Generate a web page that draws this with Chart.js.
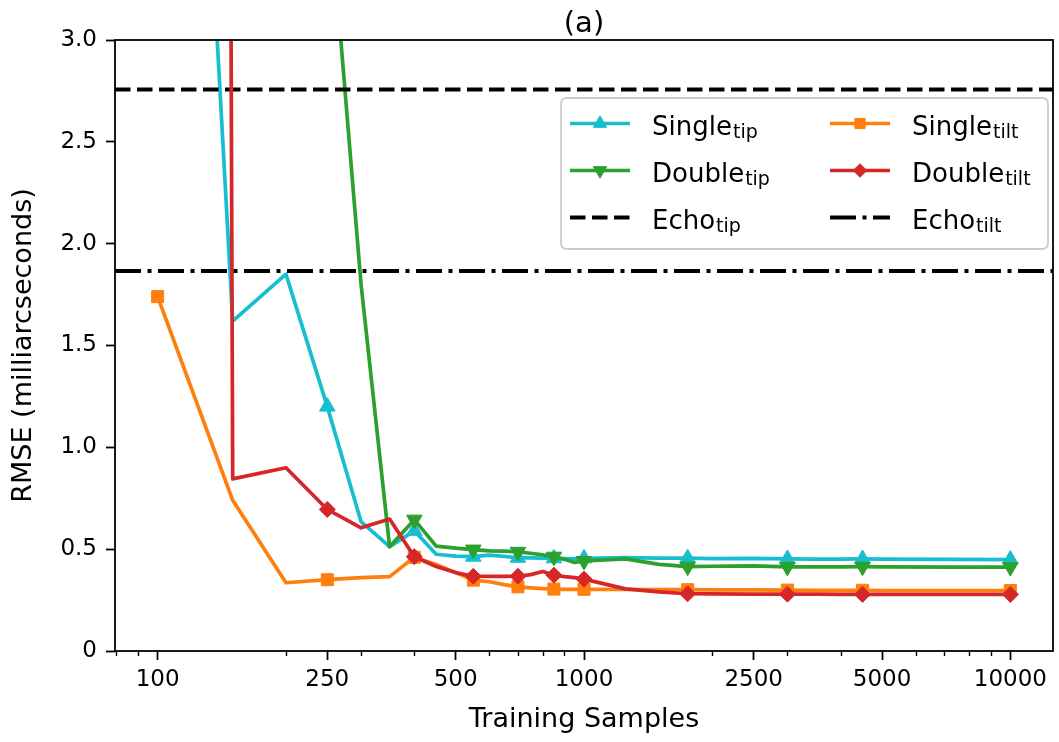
<!DOCTYPE html>
<html>
<head>
<meta charset="utf-8">
<title>RMSE vs training samples</title>
<script src="https://cdn.jsdelivr.net/npm/chart.js@4.4.1/dist/chart.umd.min.js"></script>
<style>
  html, body { margin: 0; padding: 0; background: #fff; }
  #wrap { width: 1059px; height: 742px; position: relative; }
</style>
</head>
<body>
<div id="wrap"><canvas id="rmseChart"></canvas></div>
<script>
// Training set sizes
const sampleSizes = [100, 150, 200, 250, 300, 350, 400, 450, 500, 550, 600, 650, 700, 750, 800, 850, 900, 950, 1000,
  1250, 1500, 1750, 2000, 2500, 3000, 3500, 4000, 4500, 5000, 7500, 10000];

// RMSE (milliarcseconds) per model
const singleTip = [8.3, 1.62, 1.85, 1.20, 0.635, 0.512, 0.59, 0.475, 0.466, 0.463, 0.471, 0.465, 0.458, 0.457, 0.456, 0.455, 0.454, 0.453, 0.455,
  0.458, 0.456, 0.456, 0.454, 0.455, 0.452, 0.451, 0.451, 0.452, 0.451, 0.450, 0.449];
const doubleTip = [12.0, 9.0, 6.0, 3.8, 1.8, 0.512, 0.645, 0.515, 0.505, 0.498, 0.492, 0.490, 0.487, 0.480, 0.472, 0.463, 0.450, 0.435, 0.442,
  0.452, 0.425, 0.414, 0.416, 0.418, 0.413, 0.413, 0.413, 0.414, 0.413, 0.412, 0.412];
const singleTilt = [1.74, 0.74, 0.335, 0.350, 0.360, 0.365, 0.46, 0.425, 0.385, 0.348, 0.340, 0.326, 0.315, 0.310, 0.306, 0.304, 0.303, 0.303, 0.303,
  0.302, 0.302, 0.301, 0.300, 0.300, 0.299, 0.298, 0.298, 0.298, 0.297, 0.297, 0.297];
const doubleTilt = [100, 0.845, 0.90, 0.695, 0.605, 0.648, 0.463, 0.415, 0.385, 0.367, 0.366, 0.366, 0.367, 0.375, 0.390, 0.372, 0.365, 0.360, 0.353,
  0.305, 0.290, 0.281, 0.280, 0.279, 0.279, 0.279, 0.278, 0.278, 0.278, 0.278, 0.278];

// Echo baselines
const echoTip = 2.757;
const echoTilt = 1.866;

// Axis ticks
const xMajorTicks = [100, 250, 500, 1000, 2500, 5000, 10000];
const xMinorTicks = [80, 90, 200, 300, 400, 600, 700, 800, 900, 2000, 3000, 4000, 6000, 7000, 8000, 9000];
const xMin = Math.pow(10, 1.9);
const xMax = Math.pow(10, 4.1);
const markEvery = 3;

const FONT = '"DejaVu Sans", sans-serif';
Chart.defaults.font.family = FONT;
Chart.defaults.color = '#000';

const COLORS = { cyan: '#17becf', green: '#2ca02c', orange: '#ff7f0e', red: '#d62728' };
const DASHED = [15.5, 6.5];
const DASHDOT = [26, 6.5, 4, 6.5];

function seriesSet(data, color, style, radius, rotation, order) {
  return {
    data: sampleSizes.map((x, i) => ({ x, y: data[i] })),
    borderColor: color,
    backgroundColor: color,
    borderWidth: 3.7,
    borderJoinStyle: 'round',
    pointStyle: style,
    pointRotation: rotation,
    pointRadius: sampleSizes.map((_, i) => i % markEvery === 0 ? radius : 0),
    pointHoverRadius: 0,
    pointBorderWidth: 1,
    pointBorderColor: color,
    pointBackgroundColor: color,
    tension: 0,
    clip: 0,
    order
  };
}

function echoSet(value, dash, order) {
  return {
    data: [{ x: xMin, y: value }, { x: xMax, y: value }],
    borderColor: '#000',
    borderWidth: 4,
    borderDash: dash,
    pointRadius: 0,
    pointHoverRadius: 0,
    clip: 0,
    order
  };
}

const datasets = [
  seriesSet(singleTip, COLORS.cyan, 'triangle', 9, 0, 6),
  seriesSet(doubleTip, COLORS.green, 'triangle', 9, 180, 5),
  echoSet(echoTip, DASHED, 4),
  seriesSet(singleTilt, COLORS.orange, 'rect', 8.5, 0, 3),
  seriesSet(doubleTilt, COLORS.red, 'rectRot', 8, 0, 2),
  echoSet(echoTilt, DASHDOT, 1)
];

// Legend entries, two columns
const legendEntries = [
  { name: 'Single', sub: 'tip', ds: 0, col: 0, row: 0 },
  { name: 'Double', sub: 'tip', ds: 1, col: 0, row: 1 },
  { name: 'Echo', sub: 'tip', ds: 2, col: 0, row: 2 },
  { name: 'Single', sub: 'tilt', ds: 3, col: 1, row: 0 },
  { name: 'Double', sub: 'tilt', ds: 4, col: 1, row: 1 },
  { name: 'Echo', sub: 'tilt', ds: 5, col: 1, row: 2 }
];

function roundRect(ctx, x, y, w, h, r) {
  ctx.beginPath();
  ctx.moveTo(x + r, y);
  ctx.lineTo(x + w - r, y);
  ctx.quadraticCurveTo(x + w, y, x + w, y + r);
  ctx.lineTo(x + w, y + h - r);
  ctx.quadraticCurveTo(x + w, y + h, x + w - r, y + h);
  ctx.lineTo(x + r, y + h);
  ctx.quadraticCurveTo(x, y + h, x, y + h - r);
  ctx.lineTo(x, y + r);
  ctx.quadraticCurveTo(x, y, x + r, y);
  ctx.closePath();
}

// Minor ticks, axes frame, title and legend
const decorations = {
  id: 'decorations',
  afterDatasetsDraw(chart) {
    const { ctx, chartArea: a, scales: { x } } = chart;
    ctx.save();

    ctx.strokeStyle = '#000';
    ctx.lineWidth = 1.4;
    ctx.beginPath();
    xMinorTicks.forEach(v => {
      const px = Math.round(x.getPixelForValue(v)) + 0.5;
      ctx.moveTo(px, a.bottom);
      ctx.lineTo(px, a.bottom + 5);
    });
    ctx.stroke();

    ctx.lineWidth = 1.8;
    ctx.strokeRect(a.left, a.top, a.right - a.left, a.bottom - a.top);

    ctx.fillStyle = '#000';
    ctx.font = '29px ' + FONT;
    ctx.textAlign = 'center';
    ctx.textBaseline = 'alphabetic';
    ctx.fillText('(a)', (a.left + a.right) / 2, a.top - 8);

    // legend box
    const bx = a.right - 492, by = a.top + 58, bw = 487, bh = 151;
    roundRect(ctx, bx, by, bw, bh, 6);
    ctx.fillStyle = 'rgba(255,255,255,0.8)';
    ctx.fill();
    ctx.strokeStyle = '#cccccc';
    ctx.lineWidth = 1.8;
    ctx.stroke();

    legendEntries.forEach(e => {
      const ds = chart.data.datasets[e.ds];
      const x0 = bx + 9 + e.col * 260;
      const y0 = by + 25.5 + e.row * 47;
      ctx.save();
      ctx.strokeStyle = ds.borderColor;
      ctx.lineWidth = ds.borderWidth;
      ctx.setLineDash(ds.borderDash || []);
      ctx.beginPath();
      ctx.moveTo(x0, y0);
      ctx.lineTo(x0 + 60, y0);
      ctx.stroke();
      ctx.setLineDash([]);
      if (ds.pointStyle) {
        ctx.fillStyle = ds.pointBackgroundColor;
        ctx.strokeStyle = ds.pointBorderColor;
        ctx.lineWidth = 1;
        const r = Math.max(...ds.pointRadius) * 0.85;
        Chart.helpers.drawPoint(ctx, { pointStyle: ds.pointStyle, rotation: ds.pointRotation, radius: r, borderWidth: 1 }, x0 + 30, y0);
      }
      ctx.restore();

      ctx.fillStyle = '#000';
      ctx.textAlign = 'left';
      ctx.textBaseline = 'alphabetic';
      ctx.font = '26px ' + FONT;
      const tx = x0 + 82;
      ctx.fillText(e.name, tx, y0 + 11);
      const w = ctx.measureText(e.name).width;
      ctx.font = '19px ' + FONT;
      ctx.fillText(e.sub, tx + w + 1, y0 + 14);
    });

    ctx.restore();
  }
};

const ctx = document.getElementById('rmseChart').getContext('2d');
new Chart(ctx, {
  type: 'line',
  data: { datasets },
  options: {
    responsive: true,
    maintainAspectRatio: false,
    devicePixelRatio: 1,
    animation: false,
    events: [],
    layout: { autoPadding: false, padding: { top: 40, right: 6, left: 0, bottom: 0 } },
    plugins: { legend: { display: false }, tooltip: { enabled: false } },
    scales: {
      x: {
        type: 'logarithmic',
        min: xMin,
        max: xMax,
        bounds: 'data',
        afterBuildTicks: axis => { axis.ticks = xMajorTicks.map(v => ({ value: v })); },
        afterFit: axis => { axis.height = 91; },
        ticks: {
          autoSkip: false,
          maxRotation: 0,
          padding: 6,
          font: { size: 23 },
          color: '#000',
          callback: v => String(v)
        },
        grid: { display: true, drawOnChartArea: false, drawTicks: true, tickLength: 9, tickWidth: 1.8, tickColor: '#000' },
        border: { display: false },
        title: { display: true, text: 'Training Samples', font: { size: 27 }, color: '#000', padding: { top: 0, bottom: 6 } }
      },
      y: {
        min: 0,
        max: 3,
        afterFit: axis => { axis.width = 115; },
        ticks: {
          stepSize: 0.5,
          padding: 9,
          font: { size: 23 },
          color: '#000',
          callback: v => v === 0 ? '0' : v.toFixed(1)
        },
        grid: { display: true, drawOnChartArea: false, drawTicks: true, tickLength: 9, tickWidth: 1.8, tickColor: '#000' },
        border: { display: false },
        title: { display: true, text: 'RMSE (milliarcseconds)', font: { size: 27 }, color: '#000', padding: { top: 8, bottom: 0 } }
      }
    }
  },
  plugins: [decorations]
});
</script>
</body>
</html>
